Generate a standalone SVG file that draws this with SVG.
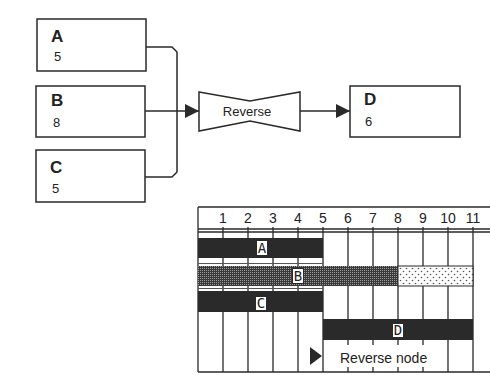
<svg xmlns="http://www.w3.org/2000/svg" width="490" height="375" viewBox="0 0 490 375">
<style>
.box{fill:#fff;stroke:#2a2a2a;stroke-width:1.5}
.ttl{font-family:"Liberation Sans",Arial,sans-serif;font-weight:bold;font-size:17px;fill:#222}
.num{font-family:"Liberation Sans",Arial,sans-serif;font-size:13px;fill:#222}
.con{fill:none;stroke:#2a2a2a;stroke-width:1.5}
.ln{stroke:#2a2a2a;stroke-width:1.3;fill:none}
.thin{stroke:#555;stroke-width:1;fill:none}
.bar{fill:#2a2a2a}
.hdr{font-family:"Liberation Sans",Arial,sans-serif;font-size:14px;fill:#222;text-anchor:middle}
.lbl{fill:#fff;stroke:#2a2a2a;stroke-width:1}
.lt{font-family:"DejaVu Sans Mono",monospace;font-size:14px;fill:#222;text-anchor:middle}
</style>
<defs>
<marker id="arr" viewBox="0 0 10 10" refX="10" refY="5" markerWidth="17" markerHeight="14" markerUnits="userSpaceOnUse" orient="auto">
<path d="M0,0 L10,5 L0,10 Z" fill="#2a2a2a"/>
</marker>
<pattern id="dense" width="2" height="2" patternUnits="userSpaceOnUse">
<rect width="2" height="2" fill="#3a3a3a"/>
<rect width="1" height="1" fill="#9a9a9a"/>
</pattern>
<pattern id="light" width="6" height="6" patternUnits="userSpaceOnUse">
<rect width="6" height="6" fill="#fff"/>
<circle cx="1.5" cy="1.5" r="0.8" fill="#555"/>
<circle cx="4.5" cy="4.5" r="0.8" fill="#555"/>
</pattern>
</defs>

<g id="connectors">
<path class="con" d="M146,47 H172 L177,52 V172 L172,177 H145"/>
<path class="con" d="M145,111 H199" marker-end="url(#arr)"/>
<path class="con" d="M300,111 H350" marker-end="url(#arr)"/>
</g>

<g id="nodeA">
<rect class="box" x="37" y="19" width="109" height="52"/>
<text class="ttl" x="51" y="42">A</text>
<text class="num" x="54" y="61">5</text>
</g>
<g id="nodeB">
<rect class="box" x="36" y="86" width="109" height="51"/>
<text class="ttl" x="51" y="106">B</text>
<text class="num" x="53" y="127">8</text>
</g>
<g id="nodeC">
<rect class="box" x="36" y="150" width="109" height="52"/>
<text class="ttl" x="50" y="173">C</text>
<text class="num" x="52" y="193">5</text>
</g>
<g id="nodeReverse">
<polygon class="box" points="199,92 250,101 300,92 300,131 250,121 199,131"/>
<text class="num" x="247" y="116" text-anchor="middle">Reverse</text>
</g>
<g id="nodeD">
<rect class="box" x="350" y="86" width="110" height="51"/>
<text class="ttl" x="364" y="105">D</text>
<text class="num" x="365" y="126">6</text>
</g>

<g id="gantt">
<path class="ln" d="M198,207 H490 M198,229 H490 M198,232 H490 M198,372 H490 M198,207 V372"/>
<text class="hdr" x="223" y="223">1</text>
<text class="hdr" x="248" y="223">2</text>
<text class="hdr" x="273" y="223">3</text>
<text class="hdr" x="298" y="223">4</text>
<text class="hdr" x="323" y="223">5</text>
<text class="hdr" x="348" y="223">6</text>
<text class="hdr" x="373" y="223">7</text>
<text class="hdr" x="398" y="223">8</text>
<text class="hdr" x="423" y="223">9</text>
<text class="hdr" x="448" y="223">10</text>
<text class="hdr" x="473" y="223">11</text>
<path class="ln" d="M223,227 V372 M248,227 V372 M273,227 V372 M298,227 V372 M323,227 V372 M348,227 V372 M373,227 V372 M398,227 V372 M423,227 V372 M448,227 V372 M473,227 V372"/>
<path class="thin" d="M198,263.5 H323 M198,288.5 H323"/>
<rect class="bar" x="198" y="238" width="125" height="20"/>
<rect x="198" y="266" width="200" height="20" fill="url(#dense)"/>
<rect x="398" y="266" width="75" height="20" fill="url(#light)" stroke="#2a2a2a" stroke-width="1"/>
<rect class="bar" x="198" y="291" width="125" height="21"/>
<rect class="bar" x="323" y="319" width="150" height="21"/>
<rect class="lbl" x="256.5" y="240.5" width="11" height="15"/>
<text class="lt" x="262" y="253">A</text>
<rect class="lbl" x="292.5" y="268.5" width="11" height="15"/>
<text class="lt" x="298" y="281">B</text>
<rect class="lbl" x="255.5" y="296.5" width="11" height="14"/>
<text class="lt" x="261" y="308">C</text>
<rect class="lbl" x="392.5" y="323.5" width="11" height="14"/>
<text class="lt" x="398" y="335">D</text>
<rect x="324" y="345" width="123" height="22" fill="#fff"/>
<polygon points="310,347 322,356 310,365" fill="#2a2a2a"/>
<text x="340" y="363" font-family="'Liberation Sans',Arial,sans-serif" font-size="14" fill="#222">Reverse node</text>
</g>
</svg>
